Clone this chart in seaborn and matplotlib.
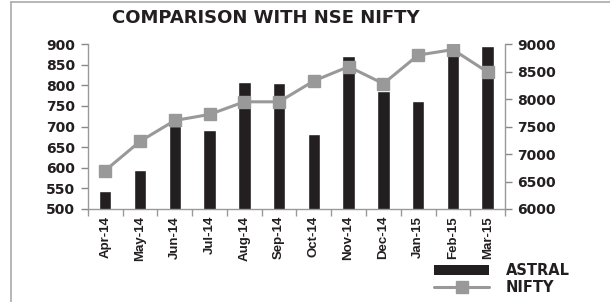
import numpy as np
import pandas as pd
import matplotlib
matplotlib.use('Agg')
import matplotlib.pyplot as plt
import seaborn as sns
from matplotlib.lines import Line2D
from matplotlib.patches import Patch

# dados
meses = ['Apr-14', 'May-14', 'Jun-14', 'Jul-14', 'Aug-14', 'Sep-14',
         'Oct-14', 'Nov-14', 'Dec-14', 'Jan-15', 'Feb-15', 'Mar-15']
astral = [543, 594, 701, 691, 808, 805, 681, 871, 786, 762, 880, 896]
nifty = [6700, 7230, 7610, 7720, 7950, 7950, 8330, 8590, 8280, 8800, 8900, 8490]

df = pd.DataFrame({'Mes': meses, 'ASTRAL': astral, 'NIFTY': nifty})

sns.set_style('white')
plt.rcParams['font.family'] = ['DejaVu Sans']

fig = plt.figure(figsize=(6.1, 3.02), dpi=100)
ax = fig.add_axes([0.144, 0.308, 0.684, 0.546])
ax2 = ax.twinx()

sns.barplot(data=df, x='Mes', y='ASTRAL', color='#231f20', width=0.36,
            saturation=1, ax=ax)
ax2.plot(np.arange(len(meses)), df['NIFTY'], color='#999999', lw=2.2,
         marker='s', markersize=9, markeredgecolor='#999999', zorder=5)

ax.set_ylim(500, 900)
ax.set_yticks(range(500, 901, 50))
ax2.set_ylim(6000, 9000)
ax2.set_yticks(range(6000, 9001, 500))
ax.set_xlim(-0.5, len(meses) - 0.5)

ax.set_xlabel('')
ax.set_ylabel('')
ax.set_zorder(ax2.get_zorder() - 1)
ax2.patch.set_visible(False)

for a in (ax, ax2):
    for s in a.spines.values():
        s.set_visible(False)
    a.tick_params(colors='#888888', labelcolor='#231f20')

ax.spines['left'].set_visible(True)
ax.spines['bottom'].set_visible(True)
ax2.spines['right'].set_visible(True)
for s in (ax.spines['left'], ax.spines['bottom'], ax2.spines['right']):
    s.set_color('#999999')
    s.set_linewidth(1)

ax.tick_params(axis='y', length=5, width=1, direction='out', left=True,
               labelsize=10, pad=4)
for t in ax.get_yticklabels():
    t.set_fontweight('bold')
ax2.tick_params(axis='y', length=5, width=1, direction='out', right=True,
                labelsize=10, pad=4)
for t in ax2.get_yticklabels():
    t.set_fontweight('bold')

# ticks do eixo x entre as categorias
ax.set_xticks(np.arange(len(meses)))
ax.set_xticklabels(meses, rotation=90, fontsize=9.5, fontweight='bold',
                   family=['Liberation Sans', 'DejaVu Sans'])
ax.tick_params(axis='x', length=0, pad=5)
ax.set_xticks(np.arange(len(meses) + 1) - 0.5, minor=True)
ax.tick_params(axis='x', which='minor', length=5, width=1, color='#999999',
               bottom=True)

fig.text(0.436, 0.94, 'COMPARISON WITH NSE NIFTY', ha='center', va='center',
         fontsize=13, fontweight='bold', color='#231f20')

handles = [Patch(facecolor='#231f20', edgecolor='none'),
           Line2D([], [], color='#999999', lw=2.2, marker='s', markersize=9)]
leg = fig.legend(handles, ['ASTRAL', 'NIFTY'], loc='lower left',
                 bbox_to_anchor=(0.69, -0.02), frameon=False,
                 handlelength=3.8, handleheight=0.7, labelspacing=0.12,
                 handletextpad=1.1,
                 prop={'weight': 'bold', 'size': 10.5})
for t in leg.get_texts():
    t.set_color('#231f20')

# moldura
fig.add_artist(Line2D([0.018, 0.018], [0, 0.993], color='#aaaaaa', lw=1.2,
                      transform=fig.transFigure))
fig.add_artist(Line2D([0.018, 1], [0.993, 0.993], color='#aaaaaa', lw=1.2,
                      transform=fig.transFigure))

fig.savefig('out.png', dpi=100)
